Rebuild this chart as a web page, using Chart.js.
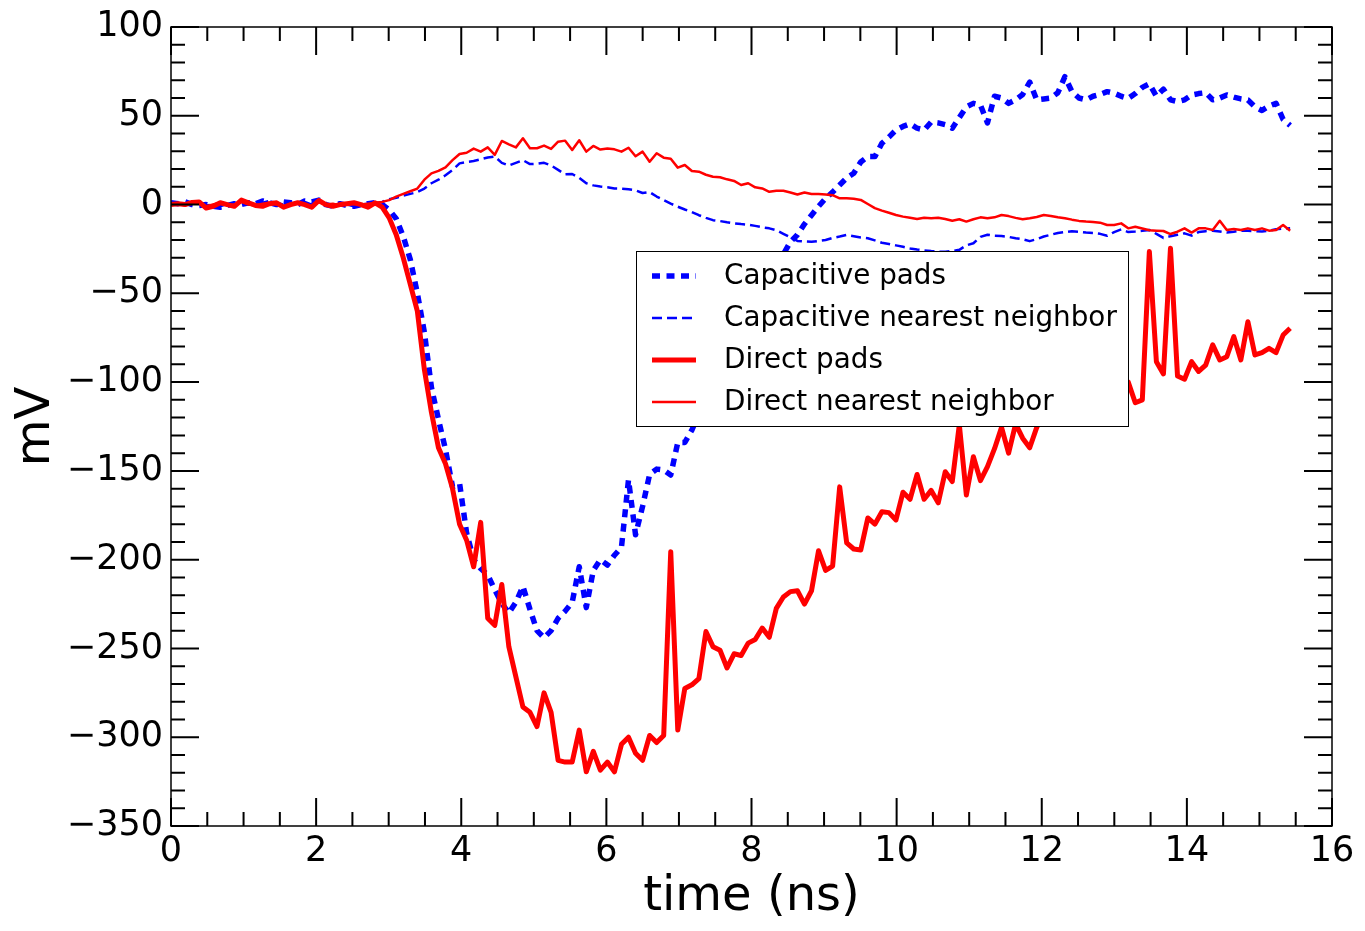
<!DOCTYPE html>
<html>
<head>
<meta charset="utf-8">
<script src="https://cdn.jsdelivr.net/npm/chart.js@4.4.0/dist/chart.umd.min.js"></script>
<style>
  html, body { margin: 0; padding: 0; background: #fff; }
</style>
</head>
<body>
<canvas id="plot" width="1365" height="931"></canvas>
<script>
// sampling step of the scope traces (ns)
var dt = 0.097;

// mV, one value per sample
var capPads = [
  1, 0.5, 1.5, 0, -0.5, 0, -1, -1.5, -0.5, 0.5,
  0, 1, 0.5, 2, 1, 0, 1.5, 1, 0, 2,
  1.5, 2.5, 0, -1, 0.5, -0.5, -1, 0, 0.5, 1,
  0, -3, -8, -18, -31, -50, -72, -103, -121, -138,
  -159, -157, -185, -200, -205, -208.6, -217, -224.6, -230, -224,
  -215, -228, -240, -244, -240, -233, -229, -224, -204, -227,
  -206, -200, -203, -197.5, -193, -155, -186, -170, -152, -149,
  -149.5, -152.3, -134, -134, -127, -118, -110, -104, -95, -88,
  -80, -72, -65, -56, -48, -41, -33, -28, -21, -17,
  -11, -6, -1, 3.5, 7, 11, 15, 17.6, 24, 27,
  27, 34.5, 38, 42, 44, 45.5, 43, 42, 46.5, 46,
  45, 43, 49, 55, 57, 56, 46, 61, 60, 57,
  59, 62, 69, 59, 59.5, 60, 63, 72, 63.6, 60,
  59, 61, 62, 63.6, 62.7, 61, 59.8, 62.5, 66, 68,
  61, 65, 59, 58, 59, 61.7, 62.5, 63, 59, 60,
  61.7, 60.5, 59.5, 58.9, 55, 53, 55.5, 57, 48, 44.5
];

var capNeighbor = [
  0.5, 1, 0, 1.5, 0.5, -0.5, 0, -1, 0.5, 0,
  1, 0, 0.5, 1, 2, 1, 0, 1, 0.5, 1.5,
  0, 2, 0.5, 0, -0.5, 0, -1, 0, 0.5, 0.8,
  1.5, 3, 3.8, 5, 6, 7, 9, 12, 14, 16.5,
  19.5, 23.2, 24, 24.5, 25.5, 26.5, 27, 23.5, 22, 23.5,
  25, 22.8, 23, 23.5, 22, 19.5, 17, 17.2, 15, 12,
  10.8, 10.2, 9.8, 9.1, 9, 8.6, 8, 6.5, 7, 4.5,
  2.5, 0.5, -1.2, -2.8, -4.2, -6, -7.5, -8.8, -9.3, -10,
  -10.6, -11, -11.3, -12, -12.8, -13.4, -14.5, -16.5, -18.5, -20.5,
  -20.8, -21, -20.5, -20, -18.8, -18, -17.1, -17.8, -18.5, -19,
  -20.2, -21.5, -22.2, -23, -23.8, -24.7, -25.3, -25.8, -26.2, -26.5,
  -26.6, -26.2, -25.5, -23, -21.8, -18.2, -17, -17.5, -17.7, -18.2,
  -19, -19.5, -20.6, -19.5, -18, -17, -16, -15.5, -15, -15.3,
  -15.8, -16, -16.5, -17.6, -15.5, -14, -15.5, -15.2, -14.8, -14.3,
  -16.5, -18.8, -17.8, -17, -16.2, -17.5, -15.5, -15, -14.7, -15.2,
  -15.8, -15.3, -14.7, -14.7, -15, -15.2, -14.8, -13.9, -13.6, -13.4
];

var directPads = [
  0, 0.5, 0, 1.2, 1.5, -2, -1, 1, 0, -1,
  2.5, 1, -0.5, -1, 0.5, 1, -1.5, 0, 1, 0,
  -1.5, 2.3, 0, -1, 0, 0.5, 1, 0, -1.5, 1,
  -1.5, -7.5, -17, -30, -45, -60, -93, -117, -137, -146,
  -160, -180, -189, -204, -179, -233, -237, -214, -249, -266,
  -283, -286, -294, -275, -286, -313, -314, -314, -296, -319.5,
  -308, -318.5, -314, -319.5, -304, -300, -309, -313, -299, -303,
  -299, -195.5, -296, -272.5, -270.5, -267, -240.5, -249, -251, -261,
  -253, -254, -247, -245, -238.5, -243.7, -227.4, -221, -218, -217.5,
  -225, -217.5, -195, -206, -203.6, -159, -190.6, -194, -194.5, -176.5,
  -180, -173, -173.5, -177.6, -162, -166, -152, -166, -161, -168,
  -150.5, -156, -124, -163.6, -142, -155.5, -147.6, -137.5, -125.5, -140,
  -123.5, -131.6, -137, -125.5, -118, -122, -113, -116, -108, -112,
  -104, -109, -102, -106, -99, -103, -100, -111.6, -110, -26.5,
  -88.5, -95.4, -24.6, -96.6, -98.4, -88.5, -94, -90.4, -79, -87.5,
  -85.7, -74.4, -87.5, -66, -84.7, -83.4, -81, -83.4, -73.5, -69.7
];

var directNeighbor = [
  0, 0.5, -0.5, 1, 0.5, -1, 0, 1, -0.5, 0,
  1.5, 0, -0.5, 0.5, 1, 0, -1, 0.5, 1, 0,
  -1, 1.5, 0, 0.5, -0.5, 0, 0.5, 0, 0.5, 1,
  1.5, 2.5, 4.5, 6, 7.5, 9, 14, 17.6, 19, 21,
  25, 28.5, 29.2, 31.5, 29.8, 32.2, 28, 35.8, 33.9, 32.2,
  37.3, 31.7, 31.7, 33.2, 31.3, 35.4, 36, 30.7, 36.2, 29.8,
  33, 31, 31.6, 31.1, 29.8, 32, 27.2, 29.8, 24.1, 28.9,
  26.4, 25.8, 20.8, 22.3, 18.9, 18.5, 16.8, 15.7, 15.4, 14.2,
  13.3, 11, 12, 9.7, 9.1, 7.2, 7.8, 7.8, 6.8, 5.7,
  6.8, 5.9, 5.9, 5.7, 5.3, 3.5, 3.5, 3.3, 2.6, 0.3,
  -2, -3.4, -4.6, -5.9, -6.8, -7.4, -8.1, -7.4, -7.7, -7.4,
  -8.1, -9.1, -8.3, -9.6, -8.3, -7.2, -7.7, -7.2, -5.9, -6.5,
  -7.5, -8.3, -7.7, -7, -5.9, -6.5, -7.2, -7.7, -8.5, -9.2,
  -9.6, -9.8, -10.2, -11.5, -11.5, -10.6, -13.4, -12.5, -13.5, -14.5,
  -14.7, -14.9, -16.6, -15.3, -13.4, -15.8, -13.4, -13.4, -14.3, -9.1,
  -14.3, -13.8, -14.3, -13.4, -14.3, -13.4, -14.7, -14.3, -11.5, -14.7
];

var seriesNames = ['Capacitive pads', 'Capacitive nearest neighbor', 'Direct pads', 'Direct nearest neighbor'];

function toPoints(vals) {
  return vals.map(function(v, i) { return { x: i * dt, y: v }; });
}

function minusSign(v) {
  return String(v).replace('-', '\u2212');
}

var FONT = "'DejaVu Sans', sans-serif";

// ticks pointing inward on all four sides, plus the frame
var frameTicks = {
  id: 'frameTicks',
  afterDatasetsDraw: function(chart) {
    var ctx = chart.ctx, a = chart.chartArea;
    var xs = chart.scales.x, ys = chart.scales.y;
    ctx.save();
    ctx.strokeStyle = '#000';
    ctx.lineWidth = 2;
    ctx.beginPath();
    for (var k = 0; k <= 32; k++) {
      var len = (k % 4 === 0) ? 28 : 14;
      var px = xs.getPixelForValue(k * 0.5);
      ctx.moveTo(px, a.bottom); ctx.lineTo(px, a.bottom - len);
      ctx.moveTo(px, a.top); ctx.lineTo(px, a.top + len);
    }
    for (var v = -350; v <= 100; v += 10) {
      var l2 = (v % 50 === 0) ? 28 : 14;
      var py = ys.getPixelForValue(v);
      ctx.moveTo(a.left, py); ctx.lineTo(a.left + l2, py);
      ctx.moveTo(a.right, py); ctx.lineTo(a.right - l2, py);
    }
    ctx.stroke();
    ctx.lineWidth = 1.5;
    ctx.strokeRect(a.left, a.top, a.right - a.left, a.bottom - a.top);
    ctx.restore();
  }
};

// legend box inside the plot, like the original
var boxLegend = {
  id: 'boxLegend',
  afterDraw: function(chart) {
    var ctx = chart.ctx, a = chart.chartArea;
    var bx = a.left + 465, by = a.top + 224, bw = 492, bh = 175;
    ctx.save();
    ctx.fillStyle = '#fff';
    ctx.fillRect(bx, by, bw, bh);
    ctx.strokeStyle = '#000';
    ctx.lineWidth = 1;
    ctx.strokeRect(bx + 0.5, by + 0.5, bw, bh);
    chart.data.datasets.forEach(function(ds, i) {
      var ry = by + 25 + i * 42;
      ctx.strokeStyle = ds.borderColor;
      ctx.lineWidth = ds.borderWidth;
      ctx.setLineDash(ds.borderDash || []);
      ctx.beginPath();
      ctx.moveTo(bx + 16, ry);
      ctx.lineTo(bx + 60, ry);
      ctx.stroke();
      ctx.setLineDash([]);
      ctx.fillStyle = '#000';
      ctx.font = '27.8px ' + FONT;
      ctx.textBaseline = 'middle';
      ctx.fillText(ds.label, bx + 88, ry + 1);
    });
    ctx.restore();
  }
};

new Chart(document.getElementById('plot').getContext('2d'), {
  type: 'line',
  data: {
    datasets: [
      { label: seriesNames[0], data: toPoints(capPads), borderColor: '#0000ff', borderWidth: 5.5, borderDash: [8, 6.5], order: 4 },
      { label: seriesNames[1], data: toPoints(capNeighbor), borderColor: '#0000ff', borderWidth: 2.5, borderDash: [10, 5], order: 3 },
      { label: seriesNames[2], data: toPoints(directPads), borderColor: '#ff0000', borderWidth: 5, order: 2 },
      { label: seriesNames[3], data: toPoints(directNeighbor), borderColor: '#ff0000', borderWidth: 2.5, order: 1 }
    ]
  },
  options: {
    responsive: false,
    animation: false,
    devicePixelRatio: 1,
    elements: {
      point: { radius: 0 },
      line: { tension: 0, fill: false, borderJoinStyle: 'round', borderCapStyle: 'butt' }
    },
    layout: { padding: { top: 27, right: 33, left: 0, bottom: 0 } },
    scales: {
      x: {
        type: 'linear',
        min: 0,
        max: 16,
        grid: { display: false, drawTicks: false },
        border: { display: false },
        ticks: { stepSize: 2, color: '#000', font: { family: FONT, size: 35 }, padding: 5, maxRotation: 0, callback: minusSign },
        title: { display: true, text: 'time (ns)', color: '#000', font: { family: FONT, size: 48 }, padding: { top: 0, bottom: 5 } },
        afterFit: function(s) { s.height = 105; s.paddingLeft = 0; s.paddingRight = 0; }
      },
      y: {
        type: 'linear',
        min: -350,
        max: 100,
        grid: { display: false, drawTicks: false },
        border: { display: false },
        ticks: { stepSize: 50, color: '#000', font: { family: FONT, size: 35 }, padding: 8, callback: minusSign },
        title: { display: true, text: 'mV', color: '#000', font: { family: FONT, size: 48 }, padding: { top: 8, bottom: 0 } },
        afterFit: function(s) { s.width = 171; s.paddingTop = 0; s.paddingBottom = 0; }
      }
    },
    plugins: {
      legend: { display: false },
      tooltip: { enabled: false }
    }
  },
  plugins: [frameTicks, boxLegend]
});
</script>
</body>
</html>
